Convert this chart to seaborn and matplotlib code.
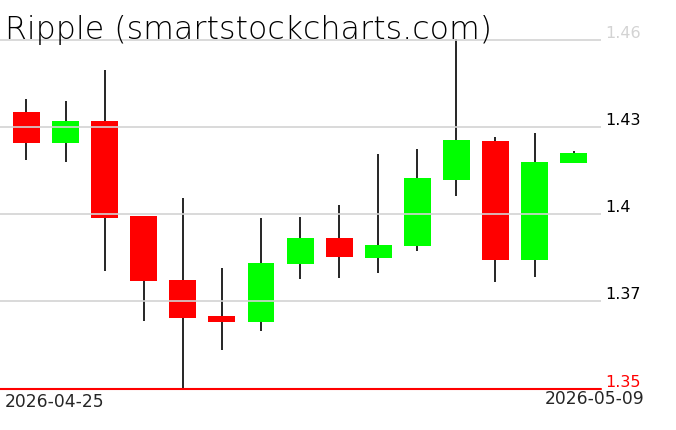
import matplotlib
matplotlib.use("Agg")
import matplotlib.pyplot as plt
import seaborn as sns
import numpy as np
import pandas as pd

dates = pd.date_range("2026-04-25", "2026-05-09", freq="D").strftime("%Y-%m-%d").tolist()
opens  = [1.4352, 1.4246, 1.4321, 1.3994, 1.3772, 1.3648, 1.3629, 1.3829, 1.3917, 1.3849, 1.3891, 1.4117, 1.4252, 1.3842, 1.4176]
closes = [1.4246, 1.4321, 1.3987, 1.3770, 1.3642, 1.3629, 1.3831, 1.3917, 1.3853, 1.3893, 1.4124, 1.4255, 1.3842, 1.4179, 1.4210]
highs  = [1.4397, 1.4390, 1.4497, 1.3994, 1.4055, 1.3814, 1.3986, 1.3990, 1.4031, 1.4207, 1.4224, 1.4603, 1.4266, 1.4279, 1.4217]
lows   = [1.4187, 1.4180, 1.3805, 1.3632, 1.3397, 1.3532, 1.3598, 1.3777, 1.3780, 1.3798, 1.3873, 1.4063, 1.3767, 1.3784, 1.4177]
grid_values = [1.37, 1.40, 1.43, 1.46]
grid_labels = ["1.37", "1.4", "1.43", "1.46"]
low_label = "1.35"
title = "Ripple (smartstockcharts.com)"

sns.set_style("white")
plt.rcParams['font.family'] = ['DejaVu Sans']

W, H = 676, 431
fig = plt.figure(figsize=(W / 100, H / 100), dpi=100)
ax = fig.add_axes([0, (H - 390) / H, 601 / W, (390 - 40) / H])

x = np.arange(len(dates))
o = np.array(opens); c = np.array(closes)
colors = ["#00FF00" if cc >= oo else "#FF0000" for oo, cc in zip(o, c)]
bottoms = np.minimum(o, c)
heights = np.abs(c - o)

ax.vlines(x, lows, highs, color="black", linewidth=1.2, zorder=1)
ax.bar(x, heights, bottom=bottoms, width=0.69, color=colors, linewidth=0, zorder=2)

ymin = min(lows)
ymax = 1.4603
ax.set_ylim(ymin, ymax)
ax.set_xlim(-0.678, 14.70)

for v in grid_values:
    ax.axhline(v, color="#D3D3D3", linewidth=1.2, zorder=3)
ax.axhline(ymin, color="#FF0000", linewidth=1.5, zorder=4, clip_on=False)

for s in ax.spines.values():
    s.set_visible(False)
ax.set_xticks([]); ax.set_yticks([])

trans = ax.get_yaxis_transform()
for v, lab in zip(grid_values, grid_labels):
    col = "#D3D3D3" if v == max(grid_values) else "black"
    ax.text(605 / 601, v, lab, transform=trans, ha="left", va="bottom",
            fontsize=11.5, color=col)
ax.text(605 / 601, ymin, low_label, transform=trans, ha="left", va="bottom",
        fontsize=11.5, color="#FF0000")

fig.text(5 / W, 1 - 393 / H, dates[0], ha="left", va="top", fontsize=12.3)
fig.text(645 / W, 1 - 390 / H, dates[-1], ha="right", va="top", fontsize=12.3)
fig.text(5 / W, 1 - 39 / H, title, ha="left", va="baseline", fontsize=22.8,
         fontweight="light", color="black")

fig.savefig("out.png", dpi=100)
